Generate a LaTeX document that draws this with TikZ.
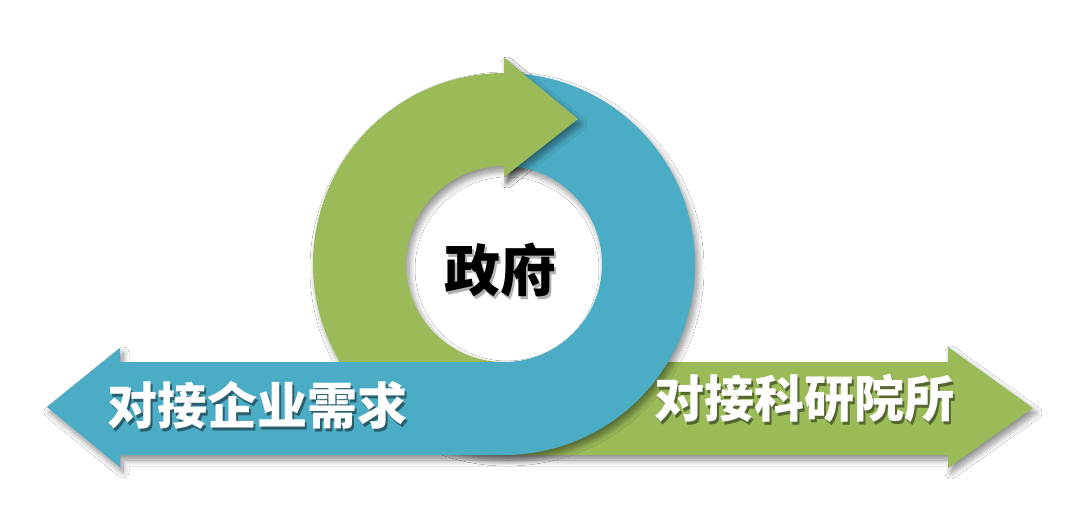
\documentclass[tikz,border=0pt]{standalone}
\usepackage{fontspec}
\newfontfamily\cjk{Noto Sans CJK SC}
\usetikzlibrary{shadows.blur}
\definecolor{ggreen}{HTML}{9BBB59}
\definecolor{gblue}{HTML}{4BACC6}
\newcommand{\shadetext}[2]{\makebox[0pt][l]{\hspace{2.5pt}\raisebox{-3pt}{\color{#1}#2}}#2}
\tikzset{
  ringshadow/.style={blur shadow={shadow xshift=3pt, shadow yshift=-5pt, shadow blur radius=6pt, shadow blur steps=10, shadow opacity=45}},
  bandtext/.style={font=\cjk\bfseries\fontsize{50}{50}\selectfont, inner sep=0pt, text=white},
  centertext/.style={font=\cjk\bfseries\fontsize{56}{56}\selectfont, inner sep=0pt, text=black}
}
\begin{document}
\begin{tikzpicture}[x=1pt,y=-1pt]
\useasboundingbox[fill=white] (0,0) rectangle (1080,523);
\coordinate (C) at (504,264);
% green: right arrow + left half ring + head at top
\fill[ggreen, ringshadow] (1033,408) -- (948,347) -- (948,362) -- (504,362)
  arc[start angle=90, end angle=270, radius=98] -- (504,177) -- (578,119) -- (504,58) -- (504,73)
  arc[start angle=270, end angle=90, radius=191] -- (948,455) -- (948,468) -- cycle;
% blue: left arrow + right half ring
\begin{scope}
  \clip (0,200) -- (504,200) -- (504,0) -- (1080,0) -- (1080,523) -- (0,523) -- cycle;
  \fill[gblue, ringshadow] (47,407) -- (120,348) -- (120,362) -- (504,362)
    arc[start angle=90, end angle=-90, radius=98] -- (504,73)
    arc[start angle=-90, end angle=90, radius=191] -- (120,455) -- (120,467) -- cycle;
\end{scope}
% green head on top of blue
\begin{scope}
  \clip (504,0) rectangle (1080,523);
  \fill[ggreen, ringshadow] (504,177) -- (578,119) -- (504,58) -- cycle;
\end{scope}
% texts
\node[centertext] (gov) at (500,272) {\shadetext{black!30}{政府}};
\node[bandtext] (left) at (257,407) {\shadetext{gblue!55!black}{对接企业需求}};
\node[bandtext] (right) at (804,400) {\shadetext{ggreen!55!black}{对接科研院所}};
\end{tikzpicture}
\end{document}
